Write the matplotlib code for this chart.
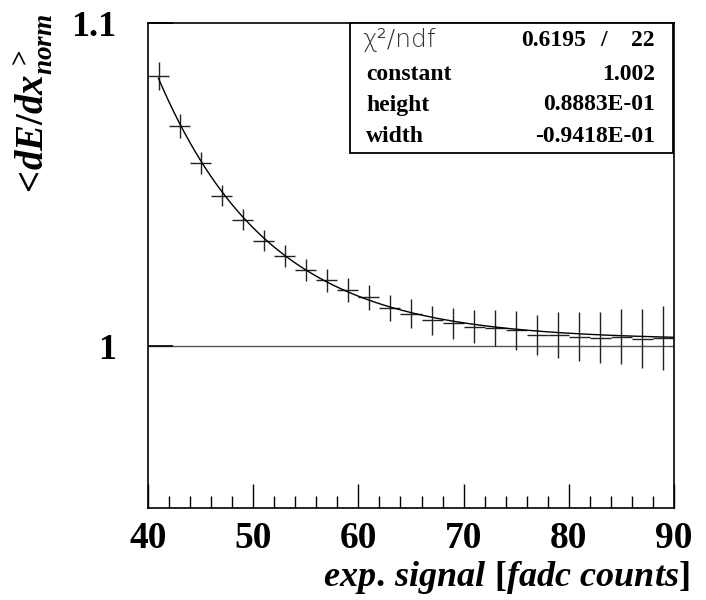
import numpy as np
import matplotlib
matplotlib.use("Agg")
from matplotlib import pyplot as plt
from matplotlib.patches import Rectangle
from matplotlib.ticker import MultipleLocator

plt.rcParams['font.family'] = 'Liberation Serif'
plt.rcParams['mathtext.fontset'] = 'custom'
plt.rcParams['mathtext.it'] = 'Liberation Serif:italic:bold'
plt.rcParams['mathtext.rm'] = 'Liberation Serif:bold'
plt.rcParams['mathtext.bf'] = 'Liberation Serif:bold'

# bin centres (bin width 2) and mean normalised dE/dx per bin
signal = [41, 43, 45, 47, 49, 51, 53, 55, 57, 59, 61, 63, 65,
          67, 69, 71, 73, 75, 77, 79, 81, 83, 85, 87, 89]
dedx = [1.0836, 1.0682, 1.0568, 1.0466, 1.0392, 1.0327, 1.0278, 1.0235,
        1.0204, 1.0174, 1.0152, 1.0119, 1.0101, 1.0081, 1.0071, 1.0061,
        1.0056, 1.0050, 1.0035, 1.0035, 1.0030, 1.0027, 1.0030, 1.0024,
        1.0025]
dedx_err = [0.0042, 0.0037, 0.0034, 0.0033, 0.0033, 0.0033, 0.0034, 0.0034,
            0.0035, 0.0036, 0.0039, 0.0041, 0.0044, 0.0045, 0.0049, 0.0052,
            0.0056, 0.0060, 0.0063, 0.0070, 0.0075, 0.0080, 0.0085, 0.0090,
            0.0099]
bin_half = 1.0

# fit parameters: constant + height*exp(width*(x-40))
fit_names = ['constant', 'height', 'width']
fit_values = [1.002, 0.08883, -0.09418]
fit_labels = ['1.002', '0.8883E-01', '-0.9418E-01']
chi2 = '0.6195'
ndf = '22'

fig = plt.figure(figsize=(7.06, 6), dpi=100)
ax = fig.add_axes([148/706, 1 - 508/600, (674-148)/706, (508-23)/600])

ax.axhline(1.0, color='#555555', lw=1.0, zorder=1)
ax.errorbar(signal, dedx, xerr=bin_half, yerr=dedx_err, fmt='none',
            ecolor='#222222', elinewidth=1.0, capsize=0, zorder=2)

xf = np.linspace(41, 90, 300)
yf = fit_values[0] + fit_values[1] * np.exp(fit_values[2] * (xf - 40))
ax.plot(xf, yf, color='black', lw=1.0, zorder=3)

ax.set_xlim(40, 90)
ax.set_ylim(0.95, 1.1)
ax.set_yticks([1.0, 1.1])
ax.set_yticklabels(['1', '1.1'])
ax.xaxis.set_major_locator(MultipleLocator(10))
ax.xaxis.set_minor_locator(MultipleLocator(2))
ax.tick_params(axis='x', which='major', direction='in', length=17, width=1,
               top=False, labelsize=27, pad=9)
ax.tick_params(axis='x', which='minor', direction='in', length=8.5, width=1,
               top=False)
ax.tick_params(axis='y', which='major', direction='in', length=18, width=1.2,
               right=False, labelsize=26, pad=23)
for lab in ax.get_xticklabels() + ax.get_yticklabels():
    lab.set_fontweight('bold')
for sp in ax.spines.values():
    sp.set_linewidth(1.2)

fig.text(690/706, 1 - 586/600,
         r'$exp.\,signal\ \mathrm{[}fadc\ counts\mathrm{]}$', ha='right',
         va='baseline', fontsize=26)
fig.text(33/706, 1 - 14/600, r'${<}\!dE/dx_{norm}^{\,>}$', rotation=90,
         ha='center', va='top', fontsize=28)

# statistics box
box = Rectangle((350/706, 1 - 153/600), (673-350)/706, (153-23)/600,
                transform=fig.transFigure, facecolor='white',
                edgecolor='black', lw=1.3, zorder=1)
fig.patches.append(box)

rows_y = [40, 74, 105, 136]
txt = dict(fontsize=17, fontweight='bold', va='center', zorder=6)
fig.text(362/706, 1 - rows_y[0]/600, 'χ²/ndf', ha='left', va='center',
         fontsize=18, family='DejaVu Sans', fontweight='light',
         color='#333333', zorder=6)
fig.text(586/706, 1 - rows_y[0]/600, chi2, ha='right', **txt)
fig.text(604/706, 1 - rows_y[0]/600, '/', ha='center', **txt)
fig.text(655/706, 1 - rows_y[0]/600, ndf, ha='right', **txt)
for name, lab, yy in zip(fit_names, fit_labels, rows_y[1:]):
    fig.text(366/706, 1 - yy/600, name, ha='left', **txt)
    fig.text(655/706, 1 - yy/600, lab, ha='right', **txt)

fig.savefig('out.png', dpi=100)
